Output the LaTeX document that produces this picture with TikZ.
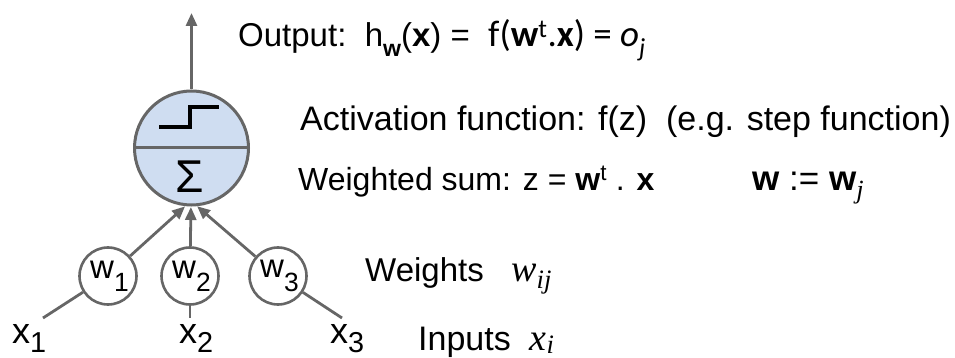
\documentclass[tikz,border=0pt]{standalone}
\usepackage{fontspec}
\setmainfont{Liberation Sans}
\newfontfamily\calib{Carlito}
\newfontfamily\serifit{Liberation Serif}
\usetikzlibrary{arrows.meta}
\definecolor{edgegray}{HTML}{666666}
\definecolor{neuronfill}{HTML}{CFDDF1}
\newcommand{\lowsub}[1]{\raisebox{-0.4em}{\scalebox{0.8}{#1}}}
\tikzset{
  neuron/.style={circle, draw=edgegray, line width=3pt, fill=neuronfill, minimum size=114pt, inner sep=0pt},
  weightnode/.style={circle, draw=edgegray, line width=2.6pt, fill=white, minimum size=57pt, inner sep=0pt, font=\fontsize{33}{34}\selectfont},
  wire/.style={draw=edgegray, line width=2.8pt},
  arrowwire/.style={wire, -{Triangle[length=13pt,width=11pt]}},
  lbl/.style={anchor=base west, inner sep=0pt, text=black},
}
\begin{document}
\begin{tikzpicture}[x=1pt,y=-1pt]
\useasboundingbox (0,0) rectangle (955,358);
% neuron
\node[neuron] (n) at (191.5,148) {};
\draw[edgegray, line width=3pt] (n.west) -- (n.east);
\draw[black, line width=4.5pt] (159,127) -- (190,127) -- (190,107) -- (219,107);
\node[inner sep=0pt, font=\fontsize{46}{48}\selectfont] (sig) at (189.5,177) {Σ};
% output
\coordinate (out) at (191.5,13);
\draw[arrowwire] (n.north) -- (out);
% weight nodes
\node[weightnode] (w1) at (108,276) {\hspace{3pt}w\lowsub{1}};
\node[weightnode] (w2) at (190,276) {\hspace{3pt}w\lowsub{2}};
\node[weightnode] (w3) at (278,276) {\hspace{3pt}w\lowsub{3}};
\coordinate (conv) at (191,201);
\draw[arrowwire, shorten >=8pt] (w1) -- (conv);
\draw[arrowwire, shorten >=6pt] (w2) -- (conv);
\draw[arrowwire, shorten >=8pt] (w3) -- (conv);
% inputs
\coordinate (i1) at (43,318);
\coordinate (i2) at (190,318);
\coordinate (i3) at (342,318);
\draw[wire] (w1) -- (i1);
\draw[wire] (w2) -- (i2);
\draw[wire] (w3) -- (i3);
\node[lbl, font=\fontsize{36}{38}\selectfont] (x1) at (12,343) {x\raisebox{-0.25em}{\scalebox{0.8}{1}}};
\node[lbl, font=\fontsize{36}{38}\selectfont] (x2) at (179,343) {x\raisebox{-0.25em}{\scalebox{0.8}{2}}};
\node[lbl, font=\fontsize{36}{38}\selectfont] (x3) at (330,343) {x\raisebox{-0.25em}{\scalebox{0.8}{3}}};
% texts
\node[lbl, font=\fontsize{33}{36}\selectfont] (outtxt) at (238,47) {Output:\ \ h\raisebox{-0.3em}{\scalebox{0.7}{\textbf{w}}}(\textbf{x}) =\ \ {\calib\fontsize{37}{38}\selectfont f(\textbf{w}\textsuperscript{t}.\textbf{x}) = {\itshape o}\raisebox{-0.25em}{\scalebox{0.7}{\itshape j}}}};
\node[lbl, font=\fontsize{34}{38}\selectfont] (act) at (300,131) {Activation function: f(z)\ \ (e.g. step function)};
\node[lbl, font=\fontsize{32}{34}\selectfont] (ws) at (298,190) {Weighted sum: z = \textbf{w}\textsuperscript{t} . \textbf{x}};
\node[lbl, font=\fontsize{35}{36}\selectfont] (wj) at (752,190) {\textbf{w}\ :=\ \textbf{w}\raisebox{-0.25em}{\scalebox{0.75}{\serifit\itshape j}}};
\node[lbl, font=\fontsize{33}{34}\selectfont] (wts) at (365,281) {Weights\ \ \ {\serifit\itshape\fontsize{38}{40}\selectfont w\raisebox{-0.2em}{\scalebox{0.7}{ij}}}};
\node[lbl, font=\fontsize{34}{34}\selectfont] (inp) at (418,350) {Inputs\ \ {\serifit\itshape\fontsize{38}{40}\selectfont x\raisebox{-0.1em}{\scalebox{0.7}{i}}}};
\end{tikzpicture}
\end{document}
